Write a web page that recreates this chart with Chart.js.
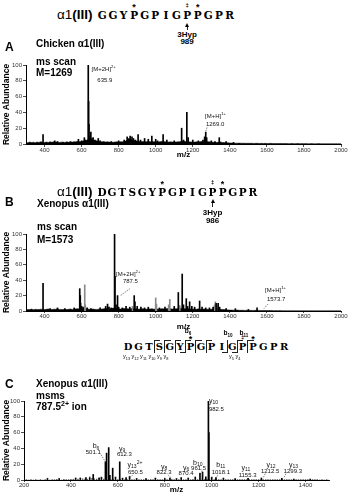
<!DOCTYPE html>
<html><head><meta charset="utf-8">
<script src="https://cdn.jsdelivr.net/npm/chart.js@4.4.0/dist/chart.umd.min.js"></script>
<style>
html,body{margin:0;padding:0;background:#fff}
body{width:354px;height:500px;position:relative;overflow:hidden;font-family:"Liberation Sans",Arial,sans-serif;color:#000}
.t{position:absolute;white-space:nowrap;line-height:1}
canvas{position:absolute;left:0}
sub,sup{font-size:70%;line-height:0}
.ln{position:absolute;background:#222}
</style></head><body>
<canvas id="cA" width="354" height="108" style="top:52px;width:354px;height:108px"></canvas>
<canvas id="cB" width="354" height="111" style="top:221px;width:354px;height:111px"></canvas>
<canvas id="cC" width="354" height="107" style="top:388px;width:354px;height:107px"></canvas>
<script>
// ---------- tick labels ----------
const xTicksAB = [400,600,800,1000,1200,1400,1600,1800,2000];
const xTicksC = [200,400,600,800,1000,1200,1400];
const yTicks = [0,20,40,60,80,100];

// ---------- panel A: chicken ms scan ----------
const aPeakMz = [392,455,470,540,583,600,615,622,636,638,640,643,650,655,662,672,690,700,760,800,830,846,855,862,872,880,890,905,918,940,960,979,1000,1010,1040,1060,1100,1140,1150,1168,1175,1200,1230,1255,1264,1270,1275,1300,1320,1343,1380,1420];
const aPeakInt = [12,4,3,3,6,4,8,5,100,54,25,10,15,7,8,5,7,4,3,4,5,9,7,10,9,7,5,12,5,7,6,10,6,4,12,5,4,20,5,40,8,5,4,5,9,15,8,4,3,8,3,2];
const aNoiseStart = 300, aNoiseStep = 10;
const aNoise = [2,1.5,2.5,1.8,2.2,1.6,2.4,2,3,2.2, 1.8,2.5,2,2.8,2.2,3,2.4,2.6,2,2.3, 2.5,2,2.8,2.2,2.6,2.4,3,2.8,3.5,3,
 3.2,4,3.5,5,6,7,5,4.5,4,3.8, 3,2.8,3.2,2.5,2.8,2.4,2.6,2.2,2.5,2.8, 2.6,3,2.8,3.2,4,5,6,5.5,4.5,4,
 3.8,3.5,3,3.2,2.8,3,3.4,2.9,3.1,2.8, 3,2.6,2.8,3.2,3.5,2.8,2.6,2.4,2.7,2.5, 2.4,2.6,2.8,3,3.5,3.8,3.2,3,2.8,2.6,
 2.5,2.4,2.8,2.6,3,3.4,3.2,3.6,3,2.7, 2.4,2.2,2.5,2,2.4,2.6,2,1.8,1.6,1.5, 1.4,1.2,1.3,1.1,1,1.2,1,0.9,1,0.8,
 0.9,0.8,1,0.7,0.8,0.9,0.7,0.8,0.6,0.8, 0.7,0.6,0.8,0.5,0.7,0.6,0.5,0.7,0.6,0.5, 0.6,0.5,0.4,0.6,0.5,0.4,0.5,0.6,0.4,0.5,
 0.4,0.5,0.4,0.3,0.5,0.4,0.3,0.4,0.5,0.3, 0.4,0.3,0.4,0.3,0.4,0.3,0.3,0.4,0.3,0.3,0.3];

// ---------- panel B: xenopus ms scan ----------
const bPeakMz = [392,430,470,510,560,590,593,600,608,630,650,700,730,740,748,760,778,780,786,794,800,820,840,860,884,888,900,920,940,960,1020,1050,1100,1122,1143,1150,1165,1172,1183,1195,1210,1237,1250,1270,1290,1310,1326,1337,1345,1380,1430,1500,1547];
const bPeakInt = [36,3,4,3,4,29,20,6,5,4,3,4,6,9,5,4,100,45,8,20,5,4,6,5,20,12,6,5,4,5,4,5,6,24,48,8,16,6,12,6,5,13,5,4,4,5,10,10,5,3,3,2,4];
const bGreyMz = [597,617,620,745,875,1000,1004,1070,1076,1130,1318,1322,1330];
const bGreyInt = [10,34,8,5,6,17,9,8,15,7,8,12,8];
const bNoiseStart = 300, bNoiseStep = 10;
const bNoise = [1.5,2,1.8,2.5,1.6,2.2,2,1.8,2.4,2, 1.8,2.2,2.6,2,1.8,2.4,2.2,3,2,1.8, 2,2.4,1.8,2.2,2.6,2,2.4,2.8,3,2.6,
 3.2,2.8,3,2.5,2.4,2.2,2.6,2.2,2,2.4, 2.2,2.6,2.8,3.5,3,2.6,3.2,3.8,3.5,3, 2.8,2.6,3,3.2,2.8,3,2.6,3.4,3,2.8,
 2.6,2.4,2.8,3,2.6,2.4,2.8,2.6,3,2.4, 2.8,2.6,2.4,3,2.8,2.6,3.2,3,2.8,2.6, 3,2.8,3.2,3.6,3.4,3,2.8,3.2,2.8,2.6,
 2.4,2.6,2.2,2.8,2.4,2.2,2.6,2.4,2.2,2, 2.4,2.6,2.8,3,2.6,2.2,2,1.8,1.6,1.4, 1.3,1.2,1.1,1,1.2,1,0.9,1,0.8,0.9,
 0.8,0.9,0.7,0.8,0.9,0.7,0.8,0.6,0.7,0.6, 0.6,0.5,0.6,0.5,0.4,0.5,0.4,0.5,0.4,0.4, 0.4,0.3,0.4,0.3,0.4,0.3,0.3,0.4,0.3,0.3,
 0.3,0.3,0.2,0.3,0.3,0.2,0.3,0.2,0.3,0.2, 0.2,0.3,0.2,0.2,0.3,0.2,0.2,0.2,0.2,0.2,0.2];

// ---------- panel C: msms of 787.5 2+ ----------
const cPeakMz = [300,350,420,440,464,480,495,520,530,547,552,561,566,578,590,608,620,635,650,680,720,760,800,822,850,870,900,930,950,961,975,986,988,1000,1018,1050,1100,1155,1212,1299,1350,1420];
const cPeakInt = [1.5,1.5,2,2,3,2.5,7,2,3,23,34,41,6,15,3,23,2,3,4,1.5,1.5,2,1.5,2.5,1.5,2.5,2,3,8,10,4,100,60,3,3,2,1.5,2,2.5,2,1,1];
const cNoiseStart = 200, cNoiseStep = 10;
const cNoise = [0,0.3,0,0.5,0,0.4,0,0.6,0,0.5, 0.8,0,0.6,0.4,1,0.5,0,0.8,0.6,0.4, 0.7,1,0.8,1.2,0.9,1.5,1.2,1,1.4,2,
 1.5,1.2,1,0.8,1.2,0.8,1,0.6,0.8,1, 0.6,0.8,0.5,0.6,0.4,0.8,0.5,0.4,0.6,0.5, 0.4,0.6,0.3,0.5,0.8,0.4,0.6,0.5,0.3,0.6,
 0.8,0.5,0.4,0.7,0.5,0.4,0.6,0.9,0.5,0.4, 0.6,0.5,0.8,1,0.6,0.8,1.2,0.9,0.7,1, 0.8,0.6,0.7,0.5,0.4,0.6,0.3,0.5,0.4,0.3,
 0.4,0.3,0.5,0.2,0.4,0.3,0.2,0.4,0.3,0.2, 0.3,0.2,0.4,0.2,0.3,0.2,0.3,0.2,0.1,0.2, 0.2,0.1,0.2,0.3,0.1,0.2,0.1,0.2,0.1,0.1,
 0.1,0.2,0.1,0.1,0.2,0.1,0,0.1,0,0.1,0];

// ---------- peak annotations (text anchored in data units) ----------
const aLabels = [
  {mz:654, ab:95, parts:[['[M+2H]',0],['2+',2]], align:'left'},
  {mz:685, ab:81, parts:[['635.9',0]], align:'left'},
  {mz:1266, ab:35, parts:[['[M+H]',0],['1+',2]], align:'left'},
  {mz:1271, ab:25, parts:[['1269.0',0]], align:'left'}
];
const aPtr = [[1277,21,1270,16]];
const bLabels = [
  {mz:786, ab:48, parts:[['[M+2H]',0],['2+',2]], align:'left'},
  {mz:823, ab:38, parts:[['787.5',0]], align:'left'},
  {mz:1590, ab:27, parts:[['[M+H]',0],['1+',2]], align:'left'},
  {mz:1600, ab:15, parts:[['1573.7',0]], align:'left'}
];
const bPtr = [[861,29,807,19.5],[1606,9,1584,3]];
const cLabels = [
  {mz:988, ab:100, parts:[['y',0],['10',1]], align:'left', size:7},
  {mz:988, ab:89, parts:[['982.5',0]], align:'left'},
  {mz:507, ab:42.4, parts:[['b',0],['6',1]], size:7},
  {mz:495, ab:35, parts:[['501.1',0]]},
  {mz:618, ab:39.5, parts:[['y',0],['9',1]], size:7},
  {mz:628, ab:32, parts:[['612.3',0]]},
  {mz:673, ab:19, parts:[['y',0],['13',1],['2+',2]], size:7},
  {mz:675, ab:9.8, parts:[['650.5',0]]},
  {mz:797, ab:17, parts:[['y',0],['8',1]], size:7},
  {mz:797, ab:9.8, parts:[['822.3',0]]},
  {mz:891, ab:15.7, parts:[['y',0],['6',1]], size:7},
  {mz:891, ab:8.5, parts:[['870.4',0]]},
  {mz:941, ab:22, parts:[['b',0],['10',1]], size:7},
  {mz:944, ab:15, parts:[['961.5',0]]},
  {mz:1039, ab:19, parts:[['b',0],['11',1]], size:7},
  {mz:1039, ab:9.8, parts:[['1018.1',0]]},
  {mz:1146, ab:15.7, parts:[['y',0],['11',1]], size:7},
  {mz:1153, ab:6.4, parts:[['1155.3',0]]},
  {mz:1253, ab:19, parts:[['y',0],['12',1]], size:7},
  {mz:1249, ab:10.6, parts:[['1212.5',0]]},
  {mz:1349, ab:19, parts:[['y',0],['13',1]], size:7},
  {mz:1346, ab:10.6, parts:[['1299.3',0]]}
];
const cPtr = [[528,32,547,23],[662,6,652,3],[815,6,830,2],[958,12,962,5],[1025,6,1018,2],[1228,8,1220,3],[1316,8,1308,3]];

// ---------- helpers ----------
const FF = '"Liberation Sans", Arial, sans-serif';
Chart.defaults.font.family = FF;

function txt(html, x, y, size, o) {
  o = o || {};
  const d = document.createElement('div');
  d.className = 't';
  d.innerHTML = html;
  d.style.fontSize = size + 'px';
  if (o.family) d.style.fontFamily = o.family;
  if (o.weight) d.style.fontWeight = o.weight;
  if (o.color) d.style.color = o.color;
  d.style.top = (y - size * 0.5) + 'px';
  d.style.left = x + 'px';
  if (o.align === 'center') d.style.transform = 'translateX(-50%)';
  document.body.appendChild(d);
  return d;
}
function box(x, y, w, h) {
  const d = document.createElement('div');
  d.className = 'ln';
  d.style.left = x + 'px'; d.style.top = y + 'px';
  d.style.width = w + 'px'; d.style.height = h + 'px';
  document.body.appendChild(d);
}
function arrowUp(cx, y1, y2) {
  box(cx - 0.5, y1 + 3, 1, y2 - y1 - 3);
  const d = document.createElement('div');
  d.style.cssText = 'position:absolute;width:0;height:0;border-left:2px solid transparent;border-right:2px solid transparent;border-bottom:4px solid #000;';
  d.style.left = (cx - 2) + 'px'; d.style.top = y1 + 'px';
  document.body.appendChild(d);
}
const SERIF = '"DejaVu Serif", "Liberation Serif", serif';
function seqLine(seq, x0, pitch, yc, size, marks) {
  for (let i = 0; i < seq.length; i++) {
    const cx = x0 + (i + 0.5) * pitch;
    txt(seq[i], cx, yc, size, {family: SERIF, weight: 'bold', align: 'center'});
    if (marks[i] === '*') txt('*', cx, yc - 8, 9, {weight: 'bold', align: 'center'});
    if (marks[i] === '‡') txt('‡', cx, yc - 10, 6, {weight: 'bold', align: 'center'});
  }
}

function drawRich(ctx, L, px, py) {
  const base = L.size || 6;
  const segs = L.parts.map(function (p) {
    const s = p[1] ? base * 0.72 : base;
    ctx.font = s + 'px ' + FF;
    return {t: p[0], k: p[1], s: s, w: ctx.measureText(p[0]).width};
  });
  const total = segs.reduce(function (a, b) { return a + b.w; }, 0);
  let x = L.align === 'left' ? px : px - total / 2;
  ctx.textBaseline = 'middle'; ctx.textAlign = 'left'; ctx.fillStyle = '#111';
  segs.forEach(function (sg) {
    ctx.font = sg.s + 'px ' + FF;
    const dy = sg.k === 1 ? base * 0.3 : (sg.k === 2 ? -base * 0.4 : 0);
    ctx.fillText(sg.t, x, py + dy);
    x += sg.w;
  });
}
function annot(labels, ptrs) {
  return {
    id: 'annot',
    afterDatasetsDraw: function (chart) {
      const ctx = chart.ctx, xs = chart.scales.x, ys = chart.scales.y;
      ctx.save();
      ctx.strokeStyle = '#333'; ctx.lineWidth = 0.6; ctx.setLineDash([1.5, 1]);
      ptrs.forEach(function (p) {
        ctx.beginPath();
        ctx.moveTo(xs.getPixelForValue(p[0]), ys.getPixelForValue(p[1]));
        ctx.lineTo(xs.getPixelForValue(p[2]), ys.getPixelForValue(p[3]));
        ctx.stroke();
      });
      ctx.setLineDash([]);
      labels.forEach(function (L) { drawRich(ctx, L, xs.getPixelForValue(L.mz), ys.getPixelForValue(L.ab)); });
      ctx.restore();
    }
  };
}

function spectrum(id, c) {
  const ds = [];
  c.bars.forEach(function (b) {
    ds.push({type: 'bar', data: b.mz.map(function (m, i) { return {x: m, y: b.ab[i]}; }),
      backgroundColor: b.color, borderWidth: 0, barThickness: b.w, stack: 's', order: b.order});
  });
  if (c.noise) {
    ds.push({type: 'line', data: c.noise.map(function (v, i) { return {x: c.nStart + i * c.nStep, y: v}; }),
      borderColor: '#000', borderWidth: 0.5, backgroundColor: '#000', fill: 'origin', pointRadius: 0, tension: 0, order: 5});
  }
  return new Chart(document.getElementById(id), {
    type: 'bar',
    data: {datasets: ds},
    options: {
      responsive: false, animation: false, events: [],
      layout: {padding: {left: 0, right: c.padR, top: c.padT, bottom: 0}},
      plugins: {legend: {display: false}, tooltip: {enabled: false}},
      scales: {
        x: {type: 'linear', min: c.xmin, max: c.xmax, offset: false,
          afterBuildTicks: function (s) { s.ticks = c.xticks.map(function (v) { return {value: v}; }); },
          ticks: {font: {size: 6, family: FF}, color: '#333', padding: c.xtp, maxRotation: 0, autoSkip: false,
            callback: function (v) { return String(v); }},
          grid: {display: true, offset: false, drawOnChartArea: false, drawTicks: true, tickLength: c.xtl, color: '#222', lineWidth: 0.8},
          border: {display: true, color: '#000', width: 1},
          title: {display: true, text: 'm/z', font: {size: 8, weight: 'bold', family: FF}, color: '#000', padding: {top: 0, bottom: c.tpb}},
          afterFit: function (s) { s.height = c.xh; }},
        y: {min: 0, max: 100,
          afterBuildTicks: function (s) { s.ticks = yTicks.map(function (v) { return {value: v}; }); },
          ticks: {font: {size: 6, family: FF}, color: '#333', padding: 1, callback: function (v) { return String(v); }},
          grid: {display: true, drawOnChartArea: false, drawTicks: true, tickLength: 3, color: '#222', lineWidth: 0.8},
          border: {display: true, color: '#000', width: 1},
          title: {display: true, text: 'Relative Abundance', font: {size: 8.5, weight: 'bold', family: FF}, color: '#000', padding: {top: 2, bottom: 0}},
          afterFit: function (s) { s.width = c.yw; }}
      }
    },
    plugins: [annot(c.labels, c.ptrs)]
  });
}

// ---------- charts ----------
spectrum('cA', {bars: [{mz: aPeakMz, ab: aPeakInt, color: '#000', w: 1, order: 1}],
  noise: aNoise, nStart: aNoiseStart, nStep: aNoiseStep,
  xmin: 300, xmax: 2000, xticks: xTicksAB, padR: 13, padT: 13, xh: 16, xtl: 3, xtp: 0, tpb: 0, yw: 26,
  labels: aLabels, ptrs: aPtr});
spectrum('cB', {bars: [{mz: bGreyMz, ab: bGreyInt, color: '#8a8a8a', w: 1, order: 2}, {mz: bPeakMz, ab: bPeakInt, color: '#000', w: 1, order: 1}],
  noise: bNoise, nStart: bNoiseStart, nStep: bNoiseStep,
  xmin: 300, xmax: 2000, xticks: xTicksAB, padR: 13, padT: 13, xh: 21, xtl: 2, xtp: 0, tpb: 0, yw: 26,
  labels: bLabels, ptrs: bPtr});
spectrum('cC', {bars: [{mz: cNoise.map(function (v, i) { return cNoiseStart + i * cNoiseStep; }), ab: cNoise, color: '#555', w: 0.8, order: 2},
                       {mz: cPeakMz, ab: cPeakInt, color: '#000', w: 1, order: 1}],
  xmin: 200, xmax: 1500, xticks: xTicksC, padR: 25, padT: 13, xh: 15, xtl: 2, xtp: 0, tpb: 0, yw: 24,
  labels: cLabels, ptrs: cPtr});

// ---------- headers A ----------
txt('α1<b>(III)</b>', 57, 15, 13.5);
seqLine('GGYPGPIGPPGPR', 97, 10.6, 15, 10.5, {3: '*', 8: '‡', 9: '*'});
(function () { const cx = 97 + 8.5 * 10.6; arrowUp(cx, 23, 30); txt('3Hyp', cx, 34.5, 8, {weight: 'bold', align: 'center'}); txt('989', cx, 41.5, 8, {weight: 'bold', align: 'center'}); })();
txt('A', 5, 47, 12, {weight: 'bold'});
txt('Chicken α1(III)', 36, 44, 10, {weight: 'bold'});
txt('ms scan', 36, 62, 10, {weight: 'bold'});
txt('M=1269', 36, 73, 10, {weight: 'bold'});

// ---------- headers B ----------
txt('α1<b>(III)</b>', 57, 192, 13.5);
seqLine('DGTSGYPGPIGPPGPR', 97, 10.05, 192, 10.5, {6: '*', 11: '‡', 12: '*'});
(function () { const cx = 97 + 11.5 * 10.05; arrowUp(cx, 199, 207); txt('3Hyp', cx, 213, 8, {weight: 'bold', align: 'center'}); txt('986', cx, 221, 8, {weight: 'bold', align: 'center'}); })();
txt('B', 5, 202, 12, {weight: 'bold'});
txt('Xenopus α1(III)', 37, 204, 10, {weight: 'bold'});
txt('ms scan', 37, 227, 10, {weight: 'bold'});
txt('M=1573', 37, 239.5, 10, {weight: 'bold'});

// ---------- sequence map C ----------
(function () {
  const x0 = 123, p = 10.4, yc = 347;
  seqLine('DGTSGYPGPIGPPGPR', x0, p, yc, 10, {6: '*', 11: '‡', 12: '*'});
  [3, 4, 5, 6, 7, 8, 11, 12].forEach(function (k) { const x = x0 + k * p; box(x - 0.5, 340, 1, 13); box(x, 340, 6, 1); });
  [6, 10, 11].forEach(function (k) { const x = x0 + k * p; box(x - 0.5, 340, 1, 13); box(x - 5, 352, 5, 1); });
  txt('b<sub>6</sub>', 188, 331, 6.5, {weight: 'bold', align: 'center'});
  txt('b<sub>10</sub>', 228, 333, 6.5, {weight: 'bold', align: 'center'});
  txt('b<sub>11</sub>', 244, 333, 6.5, {weight: 'bold', align: 'center'});
  txt('y<sub>13</sub> y<sub>12</sub> y<sub>11</sub> y<sub>10</sub> y<sub>9</sub> y<sub>8</sub>', 123, 357, 5.5);
  txt('y<sub>5</sub> y<sub>4</sub>', 229, 357, 5.5);
})();
txt('C', 5, 384, 12, {weight: 'bold'});
txt('Xenopus α1(III)', 36, 384, 10, {weight: 'bold'});
txt('msms', 36, 395.5, 10, {weight: 'bold'});
txt('787.5<sup>2+</sup> ion', 36, 407, 10, {weight: 'bold'});
</script>
</body></html>
